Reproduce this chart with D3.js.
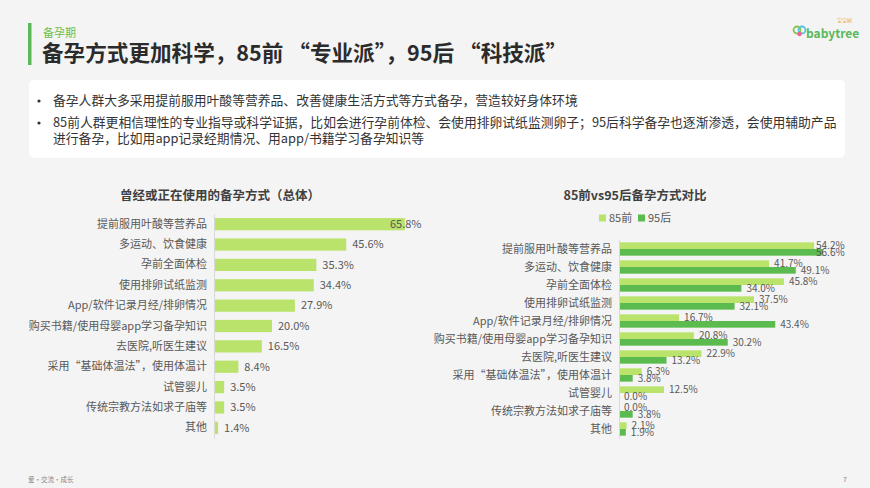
<!DOCTYPE html>
<html>
<head>
<meta charset="utf-8">
<script src="https://cdn.jsdelivr.net/npm/d3@7"></script>
<style>
  html, body { margin: 0; padding: 0; background: #f4f4f4; }
  svg { display: block; font-family: "Noto Sans CJK SC", "Noto Sans", sans-serif; }
</style>
</head>
<body>
<svg id="svg" width="870" height="488"></svg>
<script>
// total
var categories = ["提前服用叶酸等营养品","多运动、饮食健康","孕前全面体检","使用排卵试纸监测","App/软件记录月经/排卵情况","购买书籍/使用母婴app学习备孕知识","去医院,听医生建议","采用“基础体温法”，使用体温计","试管婴儿","传统宗教方法如求子庙等","其他"];
var totalValues = [65.8, 45.6, 35.3, 34.4, 27.9, 20.0, 16.5, 8.4, 3.5, 3.5, 1.4];
// 85前 vs 95后
var seriesNames = ["85前","95后"];
var values85 = [54.2, 41.7, 45.8, 37.5, 16.7, 20.8, 22.9, 6.3, 12.5, 0.0, 2.1];
var values95 = [56.6, 49.1, 34.0, 32.1, 43.4, 30.2, 13.2, 3.8, 0.0, 3.8, 1.9];

var bullets = [
  ["备孕人群大多采用提前服用叶酸等营养品、改善健康生活方式等方式备孕，营造较好身体环境"],
  ["85前人群更相信理性的专业指导或科学证据，比如会进行孕前体检、会使用排卵试纸监测卵子；95后科学备孕也逐渐渗透，会使用辅助产品",
   "进行备孕，比如用app记录经期情况、用app/书籍学习备孕知识等"]
];

var light = "#b9e36b", dark = "#5cbb4e", textCol = "#595959";
var svg = d3.select("svg");

// header
svg.append("rect").attr("x",28).attr("y",23).attr("width",3.5).attr("height",42).attr("fill","#5cb85c");
svg.append("text").attr("x",43).attr("y",37).attr("font-size",11).attr("fill","#6abf4b").text("备孕期");
svg.append("text").attr("x",42).attr("y",61).attr("font-size",21.6).attr("font-weight","bold").attr("fill","#2b2b2b")
  .text("备孕方式更加科学，85前 “专业派”，95后 “科技派”");

// logo
var logo = svg.append("g").attr("transform","translate(792,22)");
logo.append("circle").attr("cx",5).attr("cy",8).attr("r",3.5).attr("fill","none").attr("stroke","#8bc34a").attr("stroke-width",1.8);
logo.append("circle").attr("cx",10).attr("cy",8).attr("r",3.5).attr("fill","none").attr("stroke","#4fc3e0").attr("stroke-width",1.8);
logo.append("circle").attr("cx",7.5).attr("cy",12).attr("r",2.2).attr("fill","#f06292");
logo.append("text").attr("x",14).attr("y",15.5).attr("font-size",12).attr("font-weight","bold").attr("fill","#5cb85c").text("babytree");
logo.append("text").attr("x",45).attr("y",0).attr("font-size",5).attr("fill","#f39c12").text("宝宝树");

// text box
svg.append("rect").attr("x",29).attr("y",80).attr("width",816).attr("height",78).attr("rx",5).attr("fill","#ffffff");
var ly = [105, 127, 143];
var li = 0;
bullets.forEach(function(b){
  svg.append("circle").attr("cx",39).attr("cy",ly[li]-4).attr("r",1.6).attr("fill","#333");
  b.forEach(function(line){
    svg.append("text").attr("x",53).attr("y",ly[li]).attr("font-size",12.8).attr("fill","#333").text(line);
    li++;
  });
});

// ---- left chart
svg.append("text").attr("x",220).attr("y",200).attr("text-anchor","middle").attr("font-size",12.5)
  .attr("font-weight","bold").attr("fill","#404040").text("曾经或正在使用的备孕方式（总体）");

var yL = d3.scaleBand().domain(categories).range([214,438]).paddingInner(0.4).paddingOuter(0.2);
var xL = d3.scaleLinear().domain([0,70]).range([214,417]);

var gL = svg.append("g");
gL.selectAll("rect").data(totalValues).enter().append("rect")
  .attr("x",xL(0)).attr("y",function(d,i){ return yL(categories[i]); })
  .attr("width",function(d){ return xL(d)-xL(0); }).attr("height",yL.bandwidth())
  .attr("fill",light);
gL.selectAll("text.val").data(totalValues).enter().append("text").attr("class","val")
  .attr("x",function(d){ return Math.min(xL(d)+6,390); })
  .attr("y",function(d,i){ return yL(categories[i])+yL.bandwidth()/2; })
  .attr("dy","0.35em").attr("font-size",11).attr("fill",textCol)
  .text(function(d){ return d.toFixed(1)+"%"; });
var axL = svg.append("g").attr("transform","translate("+xL(0)+",0)")
  .call(d3.axisLeft(yL).tickSize(0).tickPadding(7));
axL.select(".domain").attr("stroke","#d9d9d9");
axL.selectAll("text").attr("font-size",11).attr("fill",textCol).attr("font-family","Noto Sans CJK SC");

// ---- right chart
svg.append("text").attr("x",635).attr("y",200).attr("text-anchor","middle").attr("font-size",12.5)
  .attr("font-weight","bold").attr("fill","#404040").text("85前vs95后备孕方式对比");

var leg = svg.append("g").selectAll("g").data(seriesNames).enter().append("g")
  .attr("transform",function(d,i){ return "translate("+(599+i*39)+",218)"; });
leg.append("rect").attr("x",0).attr("y",-3.5).attr("width",7).attr("height",7)
  .attr("fill",function(d,i){ return i==0?light:dark; });
leg.append("text").attr("x",10).attr("y",0).attr("dy","0.35em").attr("font-size",11).attr("fill",textCol)
  .text(function(d){ return d; });

var yR = d3.scaleBand().domain(categories).range([240,438]).paddingInner(0.26).paddingOuter(0.13);
var ySub = d3.scaleBand().domain(seriesNames).range([0,yR.bandwidth()]);
var xR = d3.scaleLinear().domain([0,60]).range([619,835]);

var rows = categories.map(function(c,i){ return {c:c, v:[values85[i], values95[i]]}; });
var gR = svg.append("g").selectAll("g").data(rows).enter().append("g")
  .attr("transform",function(d){ return "translate(0,"+yR(d.c)+")"; });
gR.selectAll("rect").data(function(d){ return d.v; }).enter().append("rect")
  .attr("x",xR(0)).attr("y",function(d,i){ return ySub(seriesNames[i]); })
  .attr("width",function(d){ return xR(d)-xR(0); }).attr("height",ySub.bandwidth())
  .attr("fill",function(d,i){ return i==0?light:dark; });
gR.selectAll("text").data(function(d){ return d.v; }).enter().append("text")
  .attr("x",function(d){ return Math.min(xR(d)+5,816); })
  .attr("y",function(d,i){ return ySub(seriesNames[i])+ySub.bandwidth()/2; })
  .attr("dy","0.35em").attr("font-size",10).attr("fill",textCol)
  .text(function(d){ return d.toFixed(1)+"%"; });
var axR = svg.append("g").attr("transform","translate("+xR(0)+",0)")
  .call(d3.axisLeft(yR).tickSize(0).tickPadding(7));
axR.select(".domain").attr("stroke","#d9d9d9");
axR.selectAll("text").attr("font-size",11).attr("fill",textCol).attr("font-family","Noto Sans CJK SC");

// footer
svg.append("text").attr("x",28).attr("y",482).attr("font-size",6.5).attr("fill","#888").text("爱·交流·成长");
svg.append("text").attr("x",843).attr("y",482).attr("font-size",7).attr("fill","#888").text("7");
</script>
</body>
</html>
